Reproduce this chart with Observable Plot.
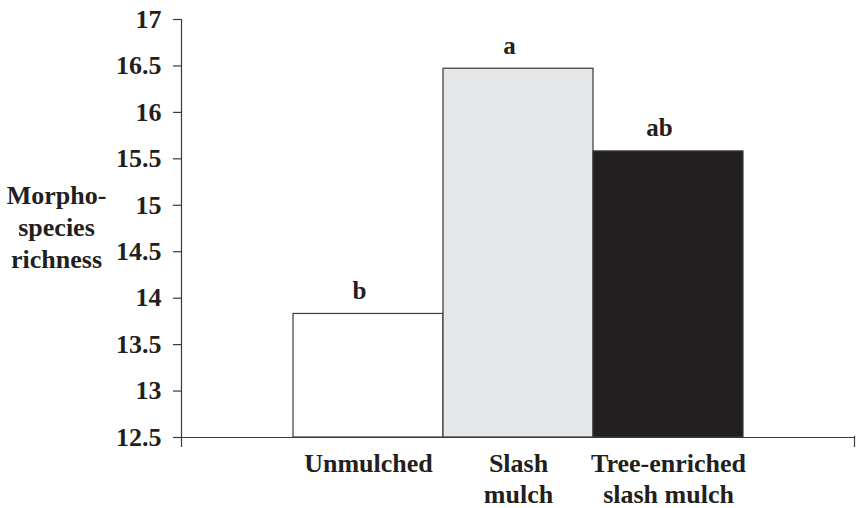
<!DOCTYPE html>
<html>
<head>
<meta charset="utf-8">
<script src="https://cdn.jsdelivr.net/npm/d3@7"></script>
<script src="https://cdn.jsdelivr.net/npm/@observablehq/plot@0.6"></script>
<style>
  html, body { margin: 0; padding: 0; background: #fff; }
  #chart svg text { font-family: 'Liberation Serif', 'Times New Roman', serif !important; font-weight: bold !important; }
</style>
</head>
<body>
<div id="chart"></div>
<script>
const categories = ["Unmulched", "Slash\nmulch", "Tree-enriched\nslash mulch"];
const values = [13.83, 16.47, 15.58];
const letters = ["b", "a", "ab"];
const fills = ["#ffffff", "#e6e7e8", "#231f20"];
const yTicks = [12.5, 13, 13.5, 14, 14.5, 15, 15.5, 16, 16.5, 17];
const yLabel = "Morpho-\nspecies\nrichness";

const data = categories.map((c, i) => ({cat: c, value: values[i], letter: letters[i], fill: fills[i]}));

const font = "'Liberation Serif', 'Times New Roman', serif";

const chart = Plot.plot({
  width: 858,
  height: 508,
  marginLeft: 181,
  marginRight: 4,
  marginTop: 19,
  marginBottom: 71,
  style: {fontFamily: font, fontWeight: "bold", fontSize: "26px", color: "#231f20", background: "#fff"},
  x: {domain: categories, paddingInner: 0, paddingOuter: 0.743, axis: null},
  y: {domain: [12.5, 17], axis: null},
  marks: [
    Plot.rectY(data, {x: "cat", y1: 12.5, y2: "value", fill: "fill", stroke: "#3a3a3a", strokeWidth: 1.2}),
    Plot.text(data, {x: "cat", y: "value", text: "letter", dy: -15, dx: -9, lineAnchor: "bottom", fontSize: 25, fontWeight: "bold", fill: "#231f20"}),
    Plot.axisY({ticks: yTicks, tickSize: 8, tickPadding: 12, tickFormat: d => String(d), fontSize: 26, fontWeight: "bold", stroke: "#3a3a3a", strokeWidth: 1.2, fill: "#231f20", label: null}),
    Plot.axisX({tickSize: 0, tickPadding: 12, fontSize: 26, fontWeight: "bold", lineHeight: 1.2, fill: "#231f20", label: null}),
    Plot.frame({anchor: "left", insetBottom: -9, stroke: "#3a3a3a", strokeWidth: 1.2}),
    Plot.frame({anchor: "bottom", stroke: "#3a3a3a", strokeWidth: 1.2}),
    Plot.frame({anchor: "right", insetTop: 417, insetBottom: -9, stroke: "#3a3a3a", strokeWidth: 1.2}),
    Plot.text([yLabel], {frameAnchor: "left", dx: -125, dy: -3, textAnchor: "middle", lineAnchor: "middle", lineHeight: 1.23, fontSize: 26, fontWeight: "bold", fill: "#231f20"})
  ]
});

document.getElementById("chart").appendChild(chart);
</script>
</body>
</html>
